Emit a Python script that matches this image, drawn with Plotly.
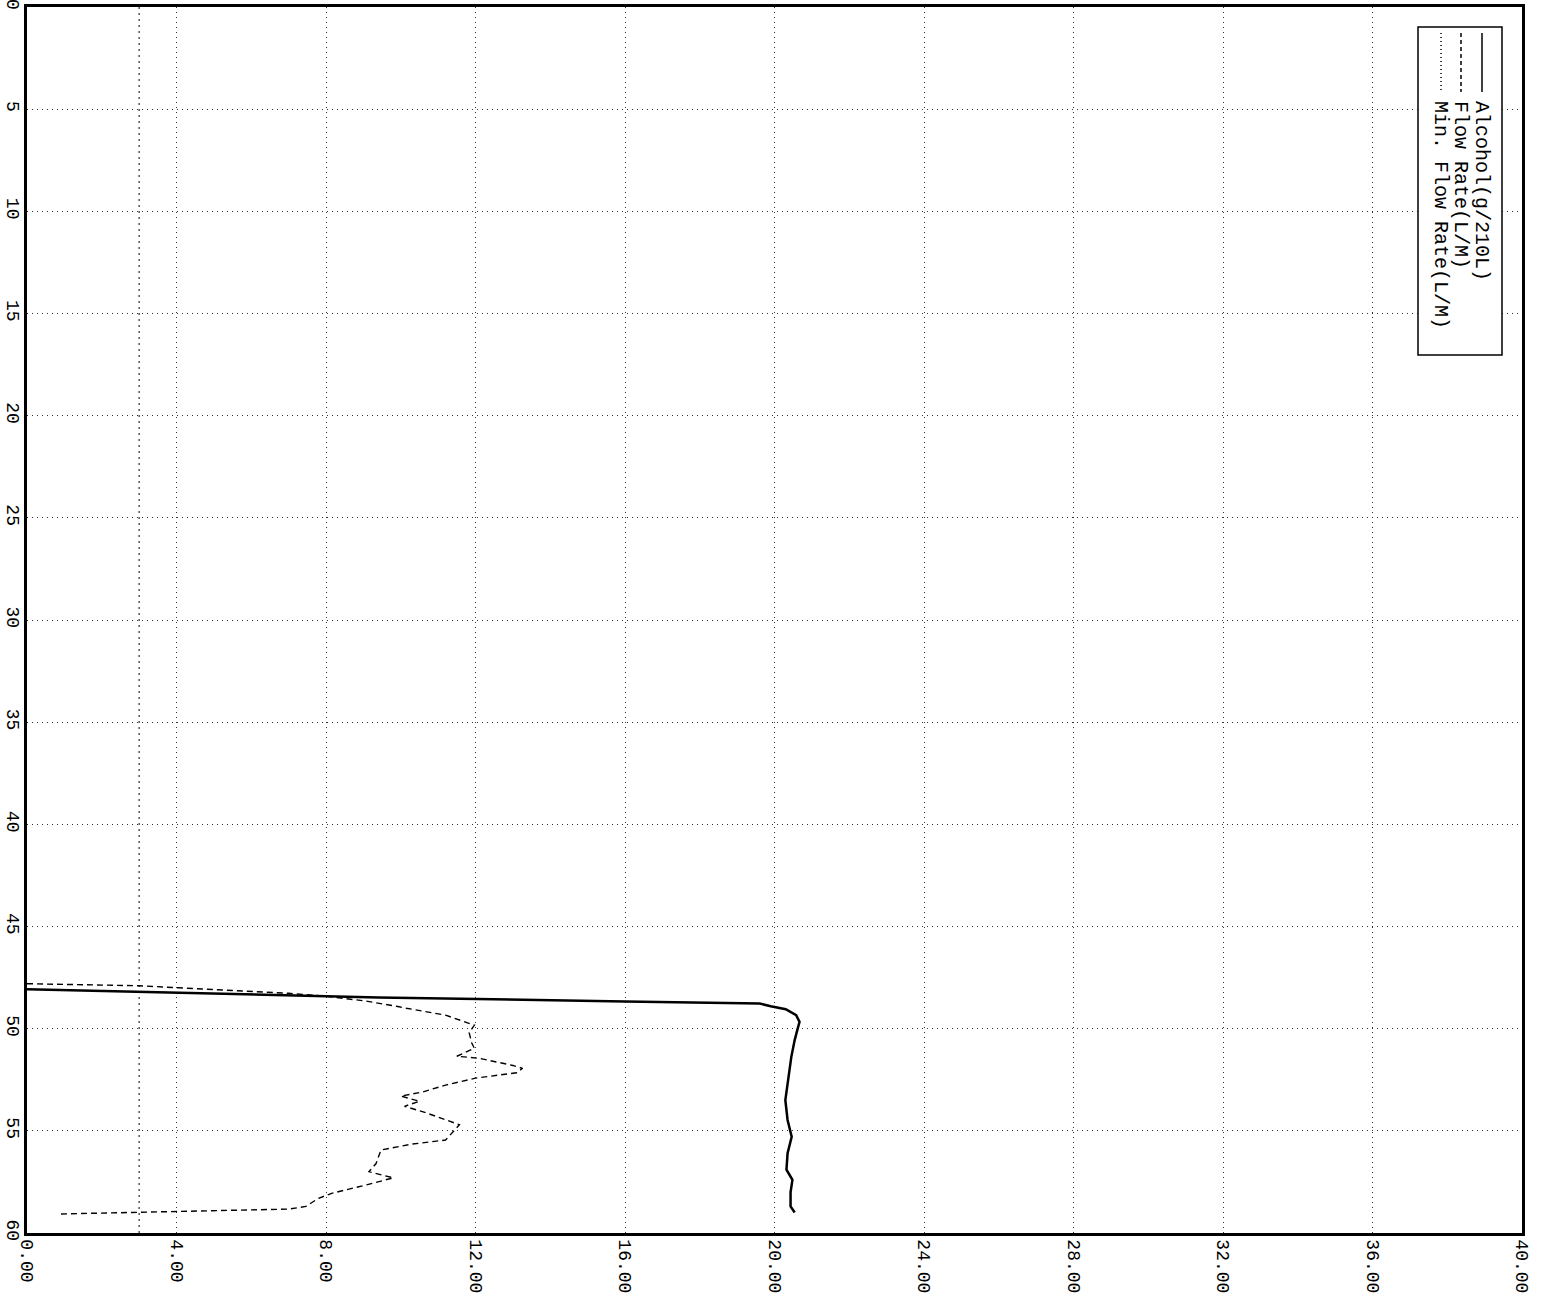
import plotly.graph_objects as go

# Breath test trace (chart is printed rotated: value runs horizontally, time runs down)
alcohol_time = [48.07, 48.44, 48.47, 48.67, 48.77, 48.90, 49.05, 49.34, 49.67, 50.00,
                50.56, 51.38, 52.00, 52.67, 53.50, 54.47, 55.29, 56.10, 56.90, 57.40,
                58.00, 58.70, 59.00]
alcohol_value = [0.0, 8.0, 9.4, 16.0, 19.6, 19.9, 20.3, 20.58, 20.67, 20.62,
                 20.54, 20.45, 20.40, 20.35, 20.29, 20.35, 20.46, 20.35, 20.32, 20.48,
                 20.43, 20.43, 20.54]

flow_time = [47.80, 47.90, 48.00, 48.27, 48.40, 48.65, 48.93, 49.00, 49.34, 49.60,
             49.83, 50.20, 50.70, 50.96, 51.35, 51.45, 51.80, 51.94, 52.16, 52.42,
             52.76, 53.09, 53.30, 53.55, 53.80, 54.07, 54.47, 54.70, 55.45, 55.65,
             55.94, 56.60, 57.00, 57.30, 57.65, 58.05, 58.30, 58.70, 58.83, 58.96,
             59.07]
flow_value = [0.0, 3.0, 4.07, 7.0, 7.95, 9.07, 9.96, 10.15, 11.2, 11.6,
              11.97, 11.83, 11.9, 11.97, 11.5, 12.1, 13.0, 13.26, 13.1, 12.0,
              11.2, 10.6, 10.0, 10.5, 10.1, 10.6, 11.2, 11.57, 11.2, 10.3,
              9.47, 9.34, 9.15, 9.8, 9.07, 8.17, 7.8, 7.46, 7.0, 4.07,
              0.86]

min_flow_time = [0, 60]
min_flow_value = [3.0, 3.0]

time_ticks = list(range(0, 61, 5))
value_ticks = [0, 4, 8, 12, 16, 20, 24, 28, 32, 36, 40]
legend_labels = ["Alcohol(g/210L)", "Flow Rate(L/M)", "Min. Flow Rate(L/M)"]

W, H = 1546, 1306
L, R, T, B = 27, 24, 7, 73
MONO = "Liberation Mono, DejaVu Sans Mono, monospace"


def px_x(px):
    return (px - L) / (W - L - R)


def px_y(py):
    return 1 - (py - T) / (H - T - B)


fig = go.Figure()

fig.add_trace(go.Scatter(
    x=min_flow_value, y=min_flow_time, mode="lines",
    line=dict(color="black", width=1, dash="2px,4px"),
    name=legend_labels[2], showlegend=False
))
fig.add_trace(go.Scatter(
    x=flow_value, y=flow_time, mode="lines",
    line=dict(color="black", width=1.4, dash="6px,4px"),
    name=legend_labels[1], showlegend=False
))
fig.add_trace(go.Scatter(
    x=alcohol_value, y=alcohol_time, mode="lines",
    line=dict(color="black", width=2.5),
    name=legend_labels[0], showlegend=False
))

# hand-drawn legend box (text is rotated like the rest of the print)
shapes = [dict(type="rect", xref="paper", yref="paper",
               x0=px_x(1418), x1=px_x(1502), y0=px_y(355), y1=px_y(27),
               line=dict(color="black", width=1.5), fillcolor="white", layer="above")]
annotations = []
legend_cols = [1482, 1461, 1441]
legend_dash = ["solid", "4px,3px", "1px,3px"]
for col, dash, label in zip(legend_cols, legend_dash, legend_labels):
    shapes.append(dict(type="line", xref="paper", yref="paper",
                       x0=px_x(col), x1=px_x(col), y0=px_y(33), y1=px_y(92),
                       line=dict(color="black", width=1.5, dash=dash), layer="above"))
    annotations.append(dict(xref="paper", yref="paper", x=px_x(col), y=px_y(99),
                            text=label, textangle=90, showarrow=False,
                            xanchor="center", yanchor="top",
                            font=dict(family=MONO, size=20, color="black")))

fig.update_layout(
    width=W, height=H,
    margin=dict(l=L, r=R, t=T, b=B),
    plot_bgcolor="white", paper_bgcolor="white",
    shapes=shapes, annotations=annotations,
    showlegend=False,
    xaxis=dict(
        range=[0, 40], tickvals=value_ticks,
        ticktext=[f"{v:.2f}" for v in value_ticks],
        tickangle=90, automargin=False, ticklabeloverflow="allow",
        showgrid=True, gridcolor="#333333", gridwidth=1, griddash="1px,4px",
        zeroline=False, showline=True, linecolor="black", linewidth=2.5, mirror=True,
        tickfont=dict(family=MONO, size=18, color="black"), ticks="",
    ),
    yaxis=dict(
        range=[60, 0], tickvals=time_ticks,
        tickangle=90, automargin=False, ticklabeloverflow="allow",
        ticklabelstandoff=-4,
        showgrid=True, gridcolor="#333333", gridwidth=1, griddash="1px,4px",
        zeroline=False, showline=True, linecolor="black", linewidth=2.5, mirror=True,
        tickfont=dict(family=MONO, size=18, color="black"), ticks="",
    ),
)

# drop the default page margin so the figure sits at the window's top-left corner
fig.write_html("out.html", config={"displayModeBar": False},
               post_script="document.body.style.margin='0';")
